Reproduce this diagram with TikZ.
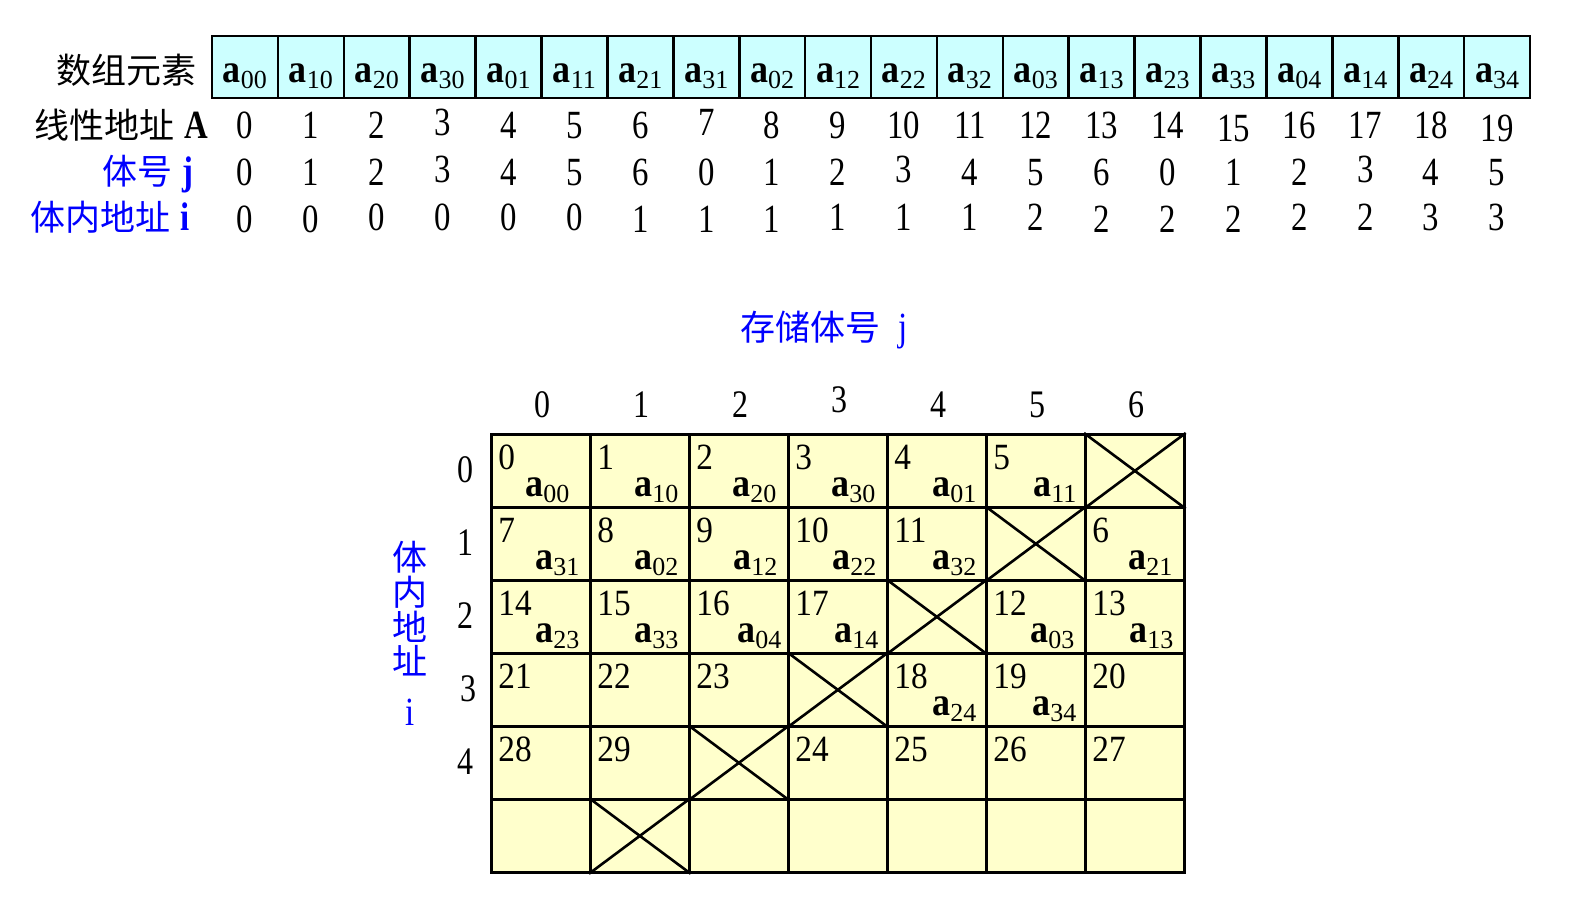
\documentclass[tikz,border=0pt]{standalone}
\usepackage{fontspec}
\setmainfont{Liberation Serif}
\newfontfamily\cond[FakeStretch=0.82]{Liberation Serif}
\newfontfamily\condb[FakeStretch=0.9]{Liberation Serif}
\newfontfamily\plainser{Liberation Serif}
\newfontfamily\cjk{Noto Sans CJK SC}
\usetikzlibrary{calc}
\definecolor{cyanf}{HTML}{CCFFFF}
\definecolor{yellf}{HTML}{FFFFCC}
\definecolor{blu}{HTML}{0000FF}
\newcommand\elemtxt[1]{{\condb\bfseries\fontsize{20}{20}\selectfont a}\raisebox{-3pt}{\plainser\fontsize{13}{13}\selectfont #1}}
\begin{document}
\begin{tikzpicture}[x=0.5pt,y=-0.5pt,
  ccell/.style={draw, fill=cyanf, line width=1.3pt, minimum width=32.95pt, minimum height=31pt, inner sep=0pt},
  gcell/.style={draw, fill=yellf, line width=1.35pt, minimum width=49.5pt, minimum height=36.5pt, inner sep=0pt, anchor=north west},
  topnum/.style={font=\cond\fontsize{20}{20}\selectfont, inner sep=0pt, anchor=base},
  cellnum/.style={font=\condb\fontsize{18.5}{18.5}\selectfont, inner sep=0pt, anchor=base west},
  cellel/.style={inner sep=0pt, anchor=base east},
  topel/.style={inner sep=0pt, anchor=base},
  hdr/.style={font=\cond\fontsize{19.5}{19.5}\selectfont, inner sep=0pt},
  cjklab/.style={font=\cjk\fontsize{17.5}{17.5}\selectfont, inner sep=0pt},
  crossline/.style={line width=1.3pt}]
\useasboundingbox[fill=white] (0,0) rectangle (1590,912);

% ---- top row of array elements
\foreach \e [count=\k from 0] in {00,10,20,30,01,11,21,31,02,12,22,32,03,13,23,33,04,14,24,34}{
  \node[ccell] (t\k) at ({244.95+65.9*\k},67) {};
  \node[topel] (te\k) at ({244.95+65.9*\k},82) {\elemtxt{\e}};
}
% ---- row labels
\node[cjklab, anchor=east] (lab1) at (197,70) {数组元素};
\node[inner sep=0pt, anchor=base east] (lab2) at (209,138) {{\cjk\fontsize{17.5}{17.5}\selectfont 线性地址}\hspace{5pt}{\cond\bfseries\fontsize{20}{20}\selectfont A}};
\node[inner sep=0pt, anchor=base east, text=blu] (lab3) at (194,184) {{\cjk\fontsize{17.5}{17.5}\selectfont 体号}\hspace{5pt}{\cond\bfseries\fontsize{20}{20}\selectfont j}};
\node[inner sep=0pt, anchor=base east, text=blu] (lab4) at (190,230) {{\cjk\fontsize{17.5}{17.5}\selectfont 体内地址}\hspace{5pt}{\cond\bfseries\fontsize{20}{20}\selectfont i}};

% ---- linear address A
\foreach \v/\dy [count=\k from 0] in {0/0,1/0,2/0,3/-3,4/0,5/0,6/0,7/-3,8/0,9/0,10/0,11/0,12/0,13/0,14/0,15/3,16/0,17/0,18/0,19/3}{
  \node[topnum] (na\k) at ({244.95+65.9*\k},{138+\dy}) {\v};
}
% ---- bank number j
\foreach \v/\dy [count=\k from 0] in {0/0,1/0,2/0,3/-3,4/0,5/0,6/0,0/0,1/0,2/0,3/-3,4/0,5/0,6/0,0/0,1/0,2/0,3/-3,4/0,5/0}{
  \node[topnum] (nj\k) at ({244.95+65.9*\k},{185+\dy}) {\v};
}
% ---- address in bank i
\foreach \v/\dy [count=\k from 0] in {0/2,0/2,0/0,0/0,0/0,0/0,1/2,1/2,1/2,1/0,1/0,1/0,2/0,2/2,2/2,2/2,2/0,2/0,3/0,3/0}{
  \node[topnum] (ni\k) at ({244.95+65.9*\k},{230+\dy}) {\v};
}

% ---- titles of the bank table
\node[inner sep=0pt, anchor=west, text=blu] (ttl) at (740,330) {{\cjk\fontsize{17.5}{17.5}\selectfont 存储体号}\hspace{9pt}{\cond\fontsize{20}{20}\selectfont j}};
\node[cjklab, text=blu] (v1) at (410,557) {体};
\node[cjklab, text=blu] (v2) at (410,592) {内};
\node[cjklab, text=blu] (v3) at (410,627) {地};
\node[cjklab, text=blu] (v4) at (410,661) {址};
\node[inner sep=0pt, text=blu, font=\cond\fontsize{20}{20}\selectfont] (v5) at (410,712) {i};

% ---- column and row headers
\foreach \c/\dy in {0/0,1/0,2/0,3/-5,4/0,5/0,6/0}{
  \node[hdr] (ch\c) at ({542.5+99*\c},{405+\dy}) {\c};
}
\foreach \r/\dx in {0/0,1/0,2/0,3/3,4/0}{
  \node[hdr] (rh\r) at ({465+\dx},{469.5+73*\r}) {\r};
}

% ---- grid cells
\foreach \r in {0,...,5}{
  \foreach \c in {0,...,6}{
    \node[gcell] (g\r\c) at ({490+99*\c},{433+73*\r}) {};
  }
}
% ---- crossed (unused) cells
\foreach \r/\c in {0/6,1/5,2/4,3/3,4/2,5/1}{
  \draw[crossline] (g\r\c.north west) -- (g\r\c.south east);
  \draw[crossline] (g\r\c.south west) -- (g\r\c.north east);
}
% ---- linear addresses in cells
\foreach \r/\c/\n in {0/0/0,0/1/1,0/2/2,0/3/3,0/4/4,0/5/5,
  1/0/7,1/1/8,1/2/9,1/3/10,1/4/11,1/6/6,
  2/0/14,2/1/15,2/2/16,2/3/17,2/5/12,2/6/13,
  3/0/21,3/1/22,3/2/23,3/4/18,3/5/19,3/6/20,
  4/0/28,4/1/29,4/3/24,4/4/25,4/5/26,4/6/27}{
  \node[cellnum] (n\r\c) at ($(g\r\c.north west)+(8,36)$) {\n};
}
% ---- elements in cells
\foreach \r/\c/\e/\dx in {0/0/00/22,0/1/10/12,0/2/20/13,0/3/30/13,0/4/01/11,0/5/11/10,
  1/0/31/12,1/1/02/12,1/2/12/12,1/3/22/12,1/4/32/11,1/6/21/13,
  2/0/23/12,2/1/33/12,2/2/04/8,2/3/14/10,2/5/03/12,2/6/13/12,
  3/4/24/11,3/5/34/10}{
  \node[cellel] (e\r\c) at ($(g\r\c.north east)+(-\dx,63)$) {\elemtxt{\e}};
}
\end{tikzpicture}
\end{document}
